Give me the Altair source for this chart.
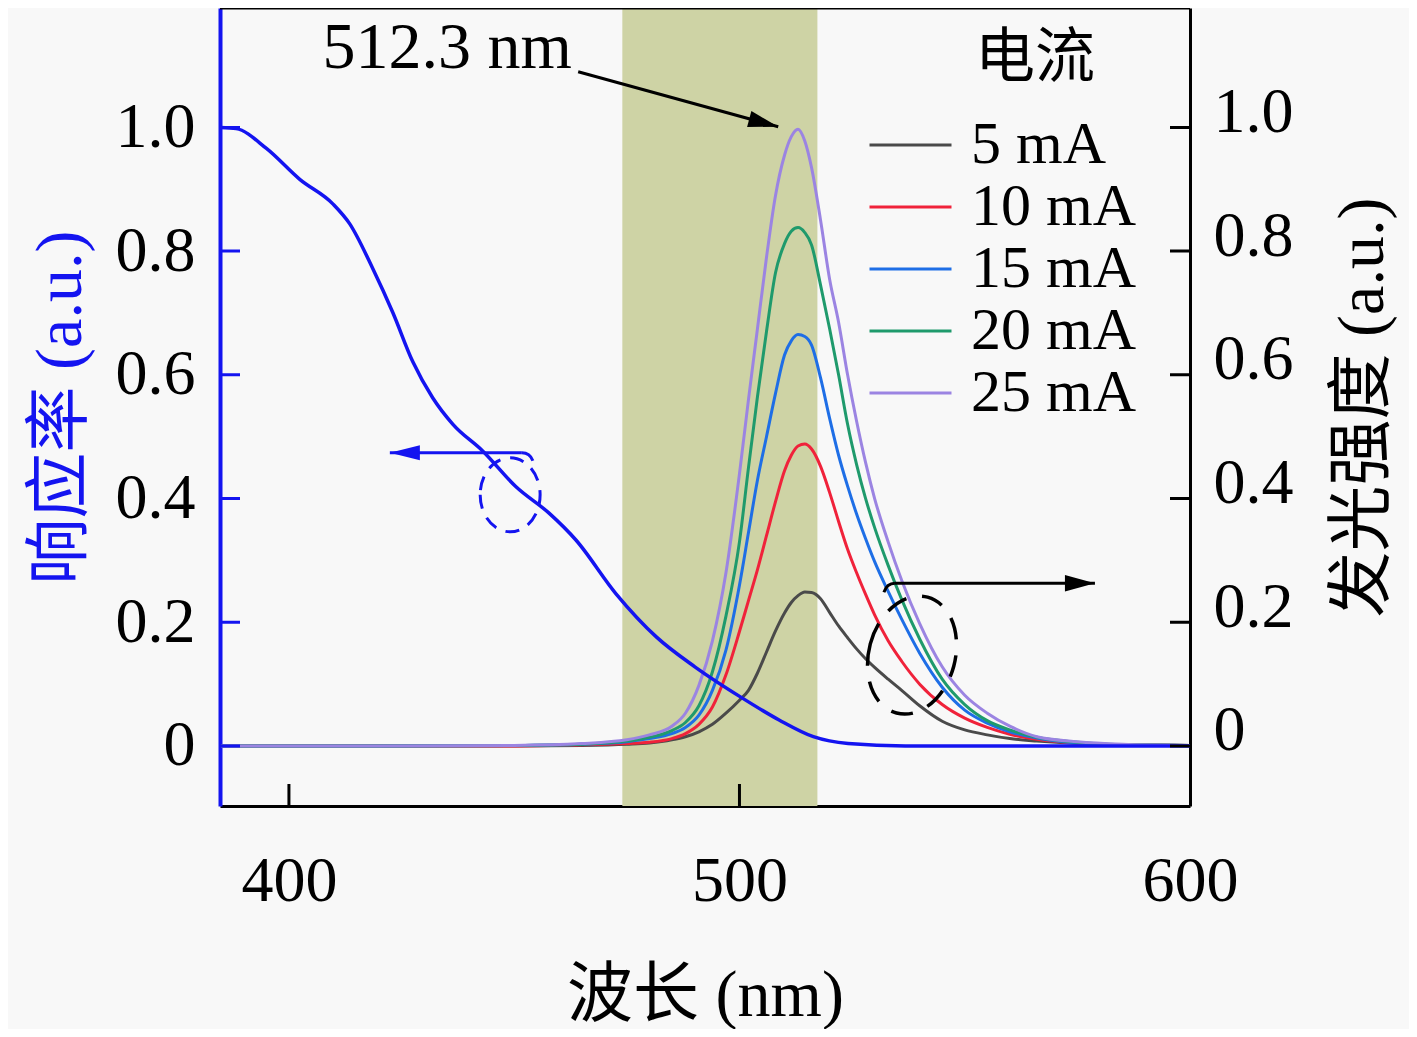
import altair as alt
import pandas as pd

# EL spectra (wavelength grid in nm)
wl_el = [385, 420, 450, 465, 475, 480, 485, 488, 491, 494, 497, 500, 502, 504, 506,
         508, 510, 511.5, 513, 514.5, 516, 518, 520, 522, 524, 526, 528, 530, 533,
         536, 540, 545, 550, 555, 560, 566, 575, 585, 600]
el_5ma = [0, 0, 0, 0.001, 0.003, 0.005, 0.01, 0.015, 0.023, 0.035, 0.053, 0.074, 0.09,
          0.118, 0.152, 0.186, 0.215, 0.232, 0.243, 0.249, 0.248, 0.238, 0.216, 0.194,
          0.175, 0.157, 0.141, 0.127, 0.108, 0.09, 0.065, 0.04, 0.026, 0.018, 0.012,
          0.008, 0.004, 0.002, 0.001]
el_10ma = [0, 0, 0, 0.002, 0.004, 0.006, 0.012, 0.02, 0.035, 0.063, 0.115, 0.185, 0.235,
           0.285, 0.34, 0.395, 0.445, 0.47, 0.485, 0.488, 0.48, 0.452, 0.41, 0.363,
           0.318, 0.28, 0.245, 0.212, 0.17, 0.137, 0.10, 0.067, 0.045, 0.03, 0.019,
           0.011, 0.005, 0.002, 0.001]
el_15ma = [0, 0, 0.001, 0.003, 0.007, 0.012, 0.02, 0.03, 0.05, 0.09, 0.155, 0.26, 0.345,
           0.43, 0.50, 0.57, 0.632, 0.655, 0.665, 0.662, 0.648, 0.595, 0.53, 0.47, 0.42,
           0.375, 0.335, 0.298, 0.25, 0.205, 0.15, 0.095, 0.058, 0.037, 0.023, 0.013,
           0.005, 0.002, 0.001]
el_20ma = [0, 0, 0.001, 0.003, 0.008, 0.014, 0.025, 0.038, 0.065, 0.12, 0.21, 0.33, 0.45,
           0.565, 0.67, 0.765, 0.812, 0.832, 0.838, 0.83, 0.81, 0.745, 0.675, 0.60, 0.52,
           0.455, 0.40, 0.353, 0.292, 0.237, 0.173, 0.108, 0.067, 0.041, 0.026, 0.014,
           0.006, 0.002, 0.001]
el_25ma = [0, 0, 0.001, 0.004, 0.010, 0.018, 0.032, 0.053, 0.098, 0.17, 0.28, 0.44, 0.56,
           0.675, 0.79, 0.89, 0.955, 0.985, 0.997, 0.978, 0.935, 0.85, 0.755, 0.685, 0.60,
           0.525, 0.458, 0.40, 0.33, 0.268, 0.198, 0.128, 0.082, 0.053, 0.032, 0.015,
           0.007, 0.003, 0.001]
currents = ["5 mA", "10 mA", "15 mA", "20 mA", "25 mA"]
current_colors = ["#4a4a4a", "#f0223a", "#1e6ee6", "#1f9a6c", "#9b84e2"]

# responsivity curve (blue, left axis)
wl_resp = [384.8, 388.3, 395.0, 402.4, 409.8, 413.5, 418.6, 423.1, 427.5, 431.9, 436.4,
           443.0, 450.4, 457.8, 463.7, 472.6, 481.6, 490.1, 500.3, 508.8, 516.4, 524.1,
           536.8, 560, 600]
resp = [1.0, 0.998, 0.966, 0.916, 0.876, 0.844, 0.772, 0.70, 0.621, 0.563, 0.52, 0.477,
        0.419, 0.376, 0.333, 0.246, 0.176, 0.128, 0.079, 0.042, 0.015, 0.004, 0.0, 0.0, 0.0]

y_ticks = [0, 0.2, 0.4, 0.6, 0.8, 1.0]
x_ticks = [400, 500, 600]
band_nm = [474.0, 517.3]

# annotation anchors (data coordinates)
peak_label = {"wl": 435.1, "v": 1.096, "t": "512.3 nm"}
legend_title = {"wl": 565.6, "v": 1.110, "t": "电流"}
peak_arrow = {"wl": 464.2, "v": 1.090, "wl2": 508.6, "v2": 1.001}
left_arrow = {"wl": 451.7, "v": 0.474, "wl2": 422.4, "v2": 0.474}
right_arrow = {"wl": 534.5, "v": 0.263, "wl2": 578.9, "v2": 0.263}
left_ring = {"wl": 449.1, "v": 0.406}
right_ring = {"wl": 538.3, "v": 0.147}

x_lo, x_hi = 384.7, 600.0
y_lo, y_hi = -0.097, 1.193
W, H = 970, 798

SERIF = "Liberation Serif, Noto Sans CJK SC"
BLUE = "#1414f0"
LABEL_EXPR = "datum.value == 0 ? '0' : format(datum.value, '.1f')"


def xenc(field="wl"):
    return alt.X(f"{field}:Q",
                 scale=alt.Scale(domain=[x_lo, x_hi], nice=False, zero=False),
                 axis=alt.Axis(values=x_ticks, title="波长 (nm)", ticks=False, grid=False,
                               domainColor="black", domainWidth=3,
                               labelFont=SERIF, labelFontSize=64, labelColor="black",
                               labelPadding=43, labelFlush=False,
                               titleFont=SERIF, titleFontSize=66, titleFontWeight="normal",
                               titleColor="black", titleX=W / 2, titleY=189,
                               titleBaseline="middle", titleAlign="center"))


def yenc(field, axis=None):
    return alt.Y(f"{field}:Q",
                 scale=alt.Scale(domain=[y_lo, y_hi], nice=False, zero=False),
                 axis=axis)


left_axis = alt.Axis(orient="left", values=y_ticks, labelExpr=LABEL_EXPR, ticks=False,
                     grid=False, domainColor=BLUE, domainWidth=4,
                     labelFont=SERIF, labelFontSize=64, labelColor="black", labelPadding=25,
                     title="响应率 (a.u.)", titleFont=SERIF, titleFontSize=66,
                     titleFontWeight="normal", titleColor=BLUE, titleAngle=270,
                     titleX=-160, titleY=H / 2, titleBaseline="middle", titleAlign="center")

right_axis = alt.Axis(orient="right", values=y_ticks, labelExpr=LABEL_EXPR, ticks=False,
                      grid=False, domainColor="black", domainWidth=3,
                      labelFont=SERIF, labelFontSize=64, labelColor="black",
                      labelPadding=23, labelOffset=-15,
                      title="发光强度 (a.u.)", titleFont=SERIF, titleFontSize=66,
                      titleFontWeight="normal", titleColor="black", titleAngle=270,
                      titleX=172, titleY=H / 2, titleBaseline="middle", titleAlign="center")

# long table for the EL spectra
rows = []
for name, vals in zip(currents, [el_5ma, el_10ma, el_15ma, el_20ma, el_25ma]):
    for w, v in zip(wl_el, vals):
        rows.append({"wl": w, "v": v, "current": name})
el_df = pd.DataFrame(rows)
resp_df = pd.DataFrame({"wl": wl_resp, "v": resp})

band = alt.Chart(pd.DataFrame({"wl": [band_nm[0]], "wl2": [band_nm[1]],
                               "v": [y_hi], "v2": [y_lo]})).mark_rect(
    color="#ced3a5").encode(x=xenc(), x2="wl2", y=yenc("v"), y2="v2")

el_lines = alt.Chart(el_df).mark_line(strokeWidth=3, interpolate="monotone").encode(
    x=xenc(),
    y=yenc("v", right_axis),
    color=alt.Color("current:N",
                    scale=alt.Scale(domain=currents, range=current_colors),
                    sort=currents,
                    legend=alt.Legend(title=None, orient="none", legendX=648, legendY=108,
                                      symbolType="stroke", symbolSize=6724,
                                      symbolStrokeWidth=3, labelFont=SERIF,
                                      labelFontSize=60, labelColor="black", labelLimit=0,
                                      labelOffset=18, clipHeight=58, rowPadding=2)))

resp_line = alt.Chart(resp_df).mark_line(
    color=BLUE, strokeWidth=3.5, interpolate="monotone").encode(
    x=xenc(), y=yenc("v", left_axis))

# inward ticks
left_ticks = alt.Chart(pd.DataFrame({"wl": [x_lo] * len(y_ticks), "v": y_ticks})).mark_tick(
    orient="horizontal", size=40, thickness=3, color=BLUE, clip=True, opacity=1).encode(
    x=xenc(), y=yenc("v"))
right_ticks = alt.Chart(pd.DataFrame({"wl": [x_hi] * len(y_ticks), "v": y_ticks})).mark_tick(
    orient="horizontal", size=40, thickness=3, color="black", clip=True, opacity=1).encode(
    x=xenc(), y=yenc("v"))
bottom_ticks = alt.Chart(pd.DataFrame({"wl": x_ticks[:2], "v": [y_lo, y_lo]})).mark_tick(
    orient="vertical", size=44, thickness=3, color="black", clip=True, opacity=1).encode(
    x=xenc(), y=yenc("v"))
top_border = alt.Chart(pd.DataFrame({"v": [y_hi]})).mark_rule(
    color="black", strokeWidth=3).encode(y=yenc("v"))

# annotations
label_512 = alt.Chart(pd.DataFrame([peak_label])).mark_text(
    font=SERIF, fontSize=66, color="black", align="center", baseline="alphabetic").encode(
    x=xenc(), y=yenc("v"), text="t:N")
label_current = alt.Chart(pd.DataFrame([legend_title])).mark_text(
    font="Noto Sans CJK SC", fontSize=60, color="black", align="center",
    baseline="middle").encode(x=xenc(), y=yenc("v"), text="t:N")

black_arrows = alt.Chart(pd.DataFrame([peak_arrow, right_arrow])).mark_rule(
    color="black", strokeWidth=3).encode(x=xenc(), x2="wl2", y=yenc("v"), y2="v2")
blue_arrow = alt.Chart(pd.DataFrame([left_arrow])).mark_rule(
    color=BLUE, strokeWidth=3).encode(x=xenc(), x2="wl2", y=yenc("v"), y2="v2")

head_right = "M 0 0 L -2 -0.55 L -2 0.55 Z"
head_left = "M 0 0 L 2 -0.5 L 2 0.5 Z"
head_peak = alt.Chart(pd.DataFrame({"wl": [peak_arrow["wl2"]], "v": [peak_arrow["v2"]]})).mark_point(
    shape=head_right, size=900, filled=True, color="black", opacity=1, angle=15).encode(
    x=xenc(), y=yenc("v"))
head_blue = alt.Chart(pd.DataFrame({"wl": [left_arrow["wl2"]], "v": [left_arrow["v2"]]})).mark_point(
    shape=head_left, size=900, filled=True, color=BLUE, opacity=1).encode(
    x=xenc(), y=yenc("v"))
head_black = alt.Chart(pd.DataFrame({"wl": [right_arrow["wl2"]], "v": [right_arrow["v2"]]})).mark_point(
    shape=head_right, size=900, filled=True, color="black", opacity=1).encode(
    x=xenc(), y=yenc("v"))

# small hooks where the arrows meet their dashed rings
hook_blue = alt.Chart(pd.DataFrame({"wl": [left_arrow["wl"]], "v": [left_arrow["v"]]})).mark_point(
    shape="M 0 0 Q 0.8 0 1.1 0.8", size=400, filled=False, color=BLUE, strokeWidth=3,
    opacity=1).encode(x=xenc(), y=yenc("v"))
hook_black = alt.Chart(pd.DataFrame({"wl": [right_arrow["wl"]], "v": [right_arrow["v"]]})).mark_point(
    shape="M 0 0 Q -0.8 0 -1.1 0.9", size=400, filled=False, color="black", strokeWidth=3,
    opacity=1).encode(x=xenc(), y=yenc("v"))

ring_blue = alt.Chart(pd.DataFrame([left_ring])).mark_point(
    shape="M -0.81 0 A 0.81 1 0 1 0 0.81 0 A 0.81 1 0 1 0 -0.81 0",
    size=5476, filled=False, color=BLUE, strokeWidth=3, strokeDash=[14, 10],
    opacity=1).encode(x=xenc(), y=yenc("v"))
ring_black = alt.Chart(pd.DataFrame([right_ring])).mark_point(
    shape="M -0.72 0 A 0.72 1 0 1 0 0.72 0 A 0.72 1 0 1 0 -0.72 0",
    size=14400, filled=False, color="black", strokeWidth=3.5, strokeDash=[22, 16],
    opacity=1, angle=15).encode(x=xenc(), y=yenc("v"))

chart = alt.layer(
    band, el_lines, resp_line, left_ticks, right_ticks, bottom_ticks, top_border,
    label_512, label_current, black_arrows, blue_arrow, head_peak, head_blue, head_black,
    hook_blue, hook_black, ring_blue, ring_black,
).resolve_scale(y="independent").properties(
    width=W, height=H,
    background="#f8f8f8",
    padding={"left": 212, "top": 0, "right": 219, "bottom": 223},
    autosize=alt.AutoSizeParams(type="none"),
).configure_view(strokeWidth=0).configure_axis(grid=False)

chart.save("out.html", embed_options={"renderer": "svg", "actions": False})
